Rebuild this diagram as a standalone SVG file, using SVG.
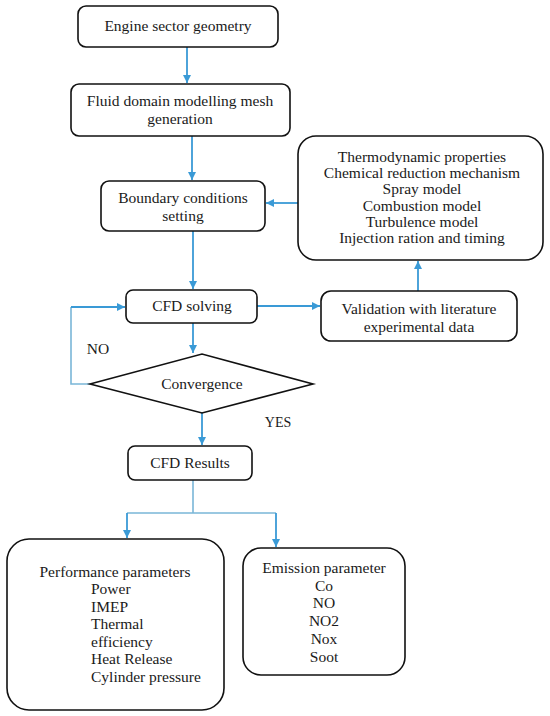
<svg xmlns="http://www.w3.org/2000/svg" width="550" height="716" viewBox="0 0 550 716">
<defs>
<marker id="ah" markerWidth="10" markerHeight="10" refX="9" refY="5" orient="auto" markerUnits="userSpaceOnUse">
<path d="M1,1 L9,5 L1,9 Z" fill="#3a9ad6"/>
</marker>
</defs>
<style>
.box{fill:#fff;stroke:#111;stroke-width:1.6}
.c{fill:none;stroke:#3a9ad6;stroke-width:1.8}
.c2{fill:none;stroke:#7ab6d8;stroke-width:1.6}
</style>
<rect width="550" height="716" fill="#fff"/>
<g id="connectors">
<path class="c" d="M187,47 V83" marker-end="url(#ah)"/>
<path class="c" d="M192,136 V180" marker-end="url(#ah)"/>
<path class="c" d="M193,231 V289" marker-end="url(#ah)"/>
<path class="c" d="M298,203 H266" marker-end="url(#ah)"/>
<path class="c" d="M257,306 H320" marker-end="url(#ah)"/>
<path class="c" d="M418,291 V261" marker-end="url(#ah)"/>
<path class="c" d="M193,322 V353" marker-end="url(#ah)"/>
<path class="c2" d="M90,384 H71 V307"/>
<path class="c" d="M71,307 H125" marker-end="url(#ah)"/>
<path class="c" d="M202,413 V445" marker-end="url(#ah)"/>
<path class="c2" d="M193,480 V513 M127,513 H276"/>
<path class="c" d="M127,513 V538" marker-end="url(#ah)"/>
<path class="c" d="M276,513 V547" marker-end="url(#ah)"/>
</g>
<g id="engine">
<rect class="box" x="78" y="6" width="200" height="41" rx="8"/>
<text x="178" y="31" font-family="Liberation Serif" font-size="15.5" fill="#1a1a1a" text-anchor="middle">Engine sector geometry</text>
</g>
<g id="fluid">
<rect class="box" x="71" y="84" width="219" height="52" rx="8"/>
<text x="180" y="106" font-family="Liberation Serif" font-size="15.5" fill="#1a1a1a" text-anchor="middle">Fluid domain modelling mesh</text>
<text x="180" y="124" font-family="Liberation Serif" font-size="15.5" fill="#1a1a1a" text-anchor="middle">generation</text>
</g>
<g id="boundary">
<rect class="box" x="101" y="181" width="164" height="50" rx="8"/>
<text x="183" y="203" font-family="Liberation Serif" font-size="15.5" fill="#1a1a1a" text-anchor="middle">Boundary conditions</text>
<text x="183" y="221" font-family="Liberation Serif" font-size="15.5" fill="#1a1a1a" text-anchor="middle">setting</text>
</g>
<g id="models">
<rect class="box" x="298" y="136" width="245" height="124" rx="18"/>
<text x="422" y="162" font-family="Liberation Serif" font-size="15.5" fill="#1a1a1a" text-anchor="middle">Thermodynamic properties</text>
<text x="422" y="178" font-family="Liberation Serif" font-size="15.5" fill="#1a1a1a" text-anchor="middle">Chemical reduction mechanism</text>
<text x="422" y="194" font-family="Liberation Serif" font-size="15.5" fill="#1a1a1a" text-anchor="middle">Spray model</text>
<text x="422" y="211" font-family="Liberation Serif" font-size="15.5" fill="#1a1a1a" text-anchor="middle">Combustion model</text>
<text x="422" y="227" font-family="Liberation Serif" font-size="15.5" fill="#1a1a1a" text-anchor="middle">Turbulence model</text>
<text x="422" y="243" font-family="Liberation Serif" font-size="15.5" fill="#1a1a1a" text-anchor="middle">Injection ration and timing</text>
</g>
<g id="cfd-solving">
<rect class="box" x="126" y="290" width="131" height="33" rx="7"/>
<text x="192" y="311" font-family="Liberation Serif" font-size="15.5" fill="#1a1a1a" text-anchor="middle">CFD solving</text>
</g>
<g id="validation">
<rect class="box" x="321" y="291" width="196" height="50" rx="10"/>
<text x="419" y="314" font-family="Liberation Serif" font-size="15.5" fill="#1a1a1a" text-anchor="middle">Validation with literature</text>
<text x="419" y="332" font-family="Liberation Serif" font-size="15.5" fill="#1a1a1a" text-anchor="middle">experimental data</text>
</g>
<g id="convergence">
<path class="box" d="M90,384 L202,354 L313,384 L202,413 Z"/>
<text x="202" y="389" font-family="Liberation Serif" font-size="15.5" fill="#1a1a1a" text-anchor="middle">Convergence</text>
</g>
<g id="labels">
<text x="98" y="354" font-family="Liberation Serif" font-size="15.5" fill="#1a1a1a" text-anchor="middle">NO</text>
<text x="278" y="427" font-family="Liberation Serif" font-size="14" fill="#1a1a1a" text-anchor="middle">YES</text>
</g>
<g id="cfd-results">
<rect class="box" x="128" y="446" width="124" height="34" rx="7"/>
<text x="190" y="468" font-family="Liberation Serif" font-size="15.5" fill="#1a1a1a" text-anchor="middle">CFD Results</text>
</g>
<g id="performance">
<rect class="box" x="7" y="539" width="217" height="171" rx="22"/>
<text x="115" y="577" font-family="Liberation Serif" font-size="15.5" fill="#1a1a1a" text-anchor="middle">Performance parameters</text>
<text x="91" y="594" font-family="Liberation Serif" font-size="15.5" fill="#1a1a1a">Power</text>
<text x="91" y="612" font-family="Liberation Serif" font-size="15.5" fill="#1a1a1a">IMEP</text>
<text x="91" y="629" font-family="Liberation Serif" font-size="15.5" fill="#1a1a1a">Thermal</text>
<text x="91" y="647" font-family="Liberation Serif" font-size="15.5" fill="#1a1a1a">efficiency</text>
<text x="91" y="664" font-family="Liberation Serif" font-size="15.5" fill="#1a1a1a">Heat Release</text>
<text x="91" y="682" font-family="Liberation Serif" font-size="15.5" fill="#1a1a1a">Cylinder pressure</text>
</g>
<g id="emission">
<rect class="box" x="243" y="548" width="162" height="127" rx="18"/>
<text x="324" y="573" font-family="Liberation Serif" font-size="15.5" fill="#1a1a1a" text-anchor="middle">Emission parameter</text>
<text x="324" y="591" font-family="Liberation Serif" font-size="15.5" fill="#1a1a1a" text-anchor="middle">Co</text>
<text x="324" y="608" font-family="Liberation Serif" font-size="15.5" fill="#1a1a1a" text-anchor="middle">NO</text>
<text x="324" y="626" font-family="Liberation Serif" font-size="15.5" fill="#1a1a1a" text-anchor="middle">NO2</text>
<text x="324" y="644" font-family="Liberation Serif" font-size="15.5" fill="#1a1a1a" text-anchor="middle">Nox</text>
<text x="324" y="662" font-family="Liberation Serif" font-size="15.5" fill="#1a1a1a" text-anchor="middle">Soot</text>
</g>
</svg>
